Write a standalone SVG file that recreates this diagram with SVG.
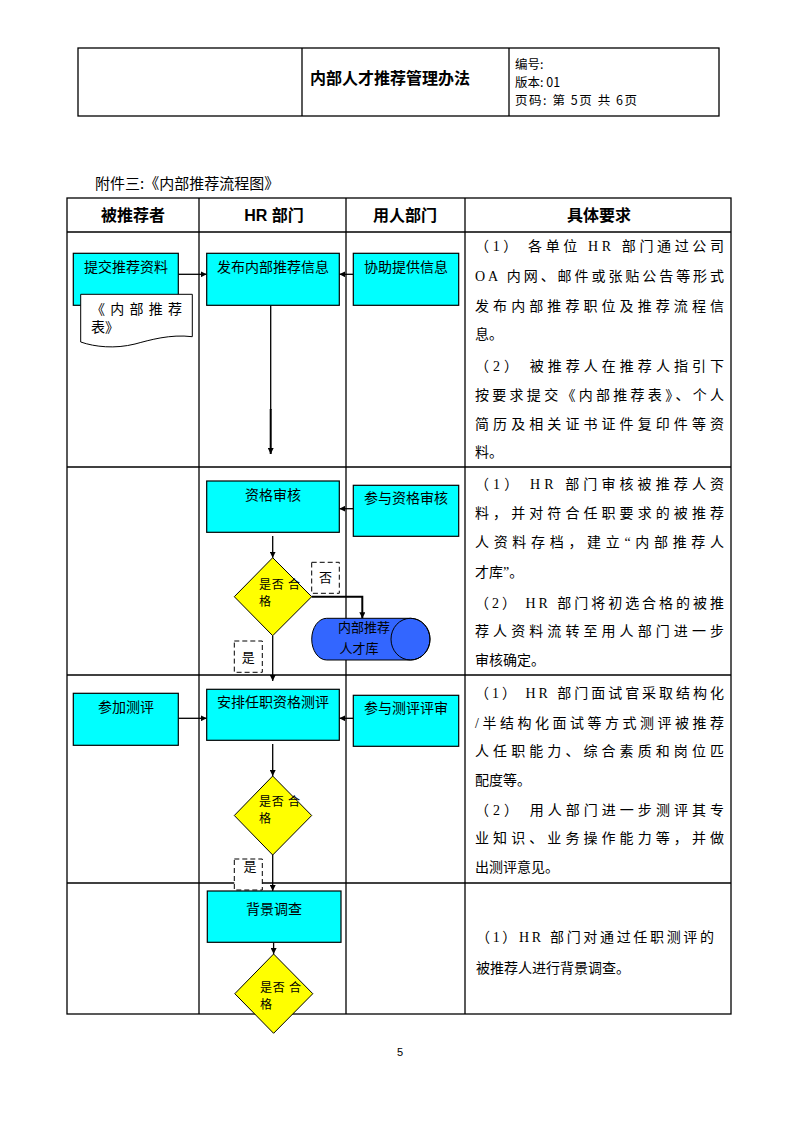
<svg xmlns="http://www.w3.org/2000/svg" width="793" height="1123" viewBox="0 0 793 1123">
<style>
.frame{fill:none;stroke:#000;stroke-width:1.3}
.box{fill:#00FFFF;stroke:#000;stroke-width:1.2}
.dia{fill:#FFFF00;stroke:#000;stroke-width:1}
.lbl{font-family:"Noto Sans CJK SC","Liberation Sans",sans-serif;font-size:14px;fill:#000}
.sm{font-family:"Noto Sans CJK SC","Liberation Sans",sans-serif;font-size:13px;fill:#000}
.dt{font-family:"Noto Sans CJK SC","Liberation Sans",sans-serif;font-size:12px;fill:#000}
.req{font-family:"Liberation Serif","Noto Sans CJK SC",serif;font-size:14px;fill:#000}
.hd{font-family:"Liberation Sans","Noto Sans CJK SC",sans-serif;font-size:16px;font-weight:bold;fill:#000;text-anchor:middle}
.conn{fill:none;stroke:#000;stroke-width:1.3}
.dash{fill:#fff;stroke:#000;stroke-width:1;stroke-dasharray:5,3}
</style>
<defs>
<marker id="ah" viewBox="0 0 10 10" refX="10" refY="5" markerWidth="6" markerHeight="6" markerUnits="userSpaceOnUse" orient="auto">
<path d="M0,0 L10,5 L0,10 Z" fill="#000"/>
</marker>
</defs>
<rect width="793" height="1123" fill="#fff"/>

<!-- page header -->
<g id="page-header">
<rect class="frame" x="78" y="48" width="641" height="68"/>
<line class="frame" x1="302" y1="48" x2="302" y2="116"/>
<line class="frame" x1="509" y1="48" x2="509" y2="116"/>
<text x="310" y="84" style="font-family:'Noto Sans CJK SC',sans-serif;font-size:16px;font-weight:bold">内部人才推荐管理办法</text>
<text x="515" y="69" style="font-family:'Noto Sans CJK SC',sans-serif;font-size:12.5px">编号:</text>
<text x="515" y="87" style="font-family:'Noto Sans CJK SC',sans-serif;font-size:12.5px">版本: 01</text>
<text x="515" y="105" style="font-family:'Noto Sans CJK SC',sans-serif;font-size:12.5px" textLength="122" lengthAdjust="spacing">页码: 第 5页 共 6页</text>
</g>

<text x="95" y="189" style="font-family:'Noto Sans CJK SC',sans-serif;font-size:15px">附件三:《内部推荐流程图》</text>

<!-- main table -->
<g id="table">
<rect class="frame" x="67" y="198" width="664" height="816"/>
<line class="frame" x1="67" y1="232" x2="731" y2="232"/>
<line class="frame" x1="67" y1="467" x2="731" y2="467"/>
<line class="frame" x1="67" y1="675" x2="731" y2="675"/>
<line class="frame" x1="67" y1="883" x2="731" y2="883"/>
<line class="frame" x1="199" y1="198" x2="199" y2="1014"/>
<line class="frame" x1="346" y1="198" x2="346" y2="1014"/>
<line class="frame" x1="465" y1="198" x2="465" y2="1014"/>
<text class="hd" x="133" y="221">被推荐者</text>
<text class="hd" x="274" y="221">HR 部门</text>
<text class="hd" x="405" y="221">用人部门</text>
<text class="hd" x="599" y="221">具体要求</text>
</g>

<!-- requirement texts -->
<g id="req-text" class="req">
<text x="475" y="251" textLength="249" lengthAdjust="spacing">（1） 各单位 HR 部门通过公司</text>
<text x="475" y="281" textLength="249" lengthAdjust="spacing">OA 内网、邮件或张贴公告等形式</text>
<text x="475" y="311" textLength="249" lengthAdjust="spacing">发布内部推荐职位及推荐流程信</text>
<text x="475" y="339">息。</text>
<text x="475" y="371" textLength="249" lengthAdjust="spacing">（2） 被推荐人在推荐人指引下</text>
<text x="475" y="400" textLength="249" lengthAdjust="spacing">按要求提交《内部推荐表》、个人</text>
<text x="475" y="429" textLength="249" lengthAdjust="spacing">简历及相关证书证件复印件等资</text>
<text x="475" y="457">料。</text>

<text x="475" y="489" textLength="249" lengthAdjust="spacing">（1） HR 部门审核被推荐人资</text>
<text x="475" y="518" textLength="249" lengthAdjust="spacing">料，并对符合任职要求的被推荐</text>
<text x="475" y="547" textLength="249" lengthAdjust="spacing">人资料存档，建立“内部推荐人</text>
<text x="475" y="577">才库”。</text>
<text x="475" y="608" textLength="249" lengthAdjust="spacing">（2） HR 部门将初选合格的被推</text>
<text x="475" y="636" textLength="249" lengthAdjust="spacing">荐人资料流转至用人部门进一步</text>
<text x="475" y="665">审核确定。</text>

<text x="475" y="698" textLength="249" lengthAdjust="spacing">（1） HR 部门面试官采取结构化</text>
<text x="475" y="728" textLength="249" lengthAdjust="spacing">/半结构化面试等方式测评被推荐</text>
<text x="475" y="756" textLength="249" lengthAdjust="spacing">人任职能力、综合素质和岗位匹</text>
<text x="475" y="785">配度等。</text>
<text x="475" y="815" textLength="249" lengthAdjust="spacing">（2） 用人部门进一步测评其专</text>
<text x="475" y="843" textLength="249" lengthAdjust="spacing">业知识、业务操作能力等，并做</text>
<text x="475" y="872">出测评意见。</text>

<text x="476" y="942" textLength="238" lengthAdjust="spacing">（1）HR 部门对通过任职测评的</text>
<text x="476" y="973">被推荐人进行背景调查。</text>
</g>

<!-- connectors -->
<g id="connectors">
<line class="conn" x1="178.3" y1="274.3" x2="206.7" y2="274.3" marker-end="url(#ah)"/>
<line class="conn" x1="353.3" y1="274.3" x2="339.3" y2="274.3" marker-end="url(#ah)"/>
<line class="conn" x1="270.7" y1="305.3" x2="270.7" y2="410"/>
<line class="conn" style="stroke-width:2" x1="270.7" y1="409" x2="270.7" y2="454" marker-end="url(#ah)"/>
<line class="conn" x1="353.3" y1="508.7" x2="339.3" y2="508.7" marker-end="url(#ah)"/>
<line class="conn" x1="272.7" y1="536" x2="272.7" y2="557.7" marker-end="url(#ah)"/>
<polyline class="conn" style="stroke-width:2" points="311.7,596.7 362.3,596.7 362.3,618.3" marker-end="url(#ah)"/>
<line class="conn" x1="272.7" y1="635.7" x2="272.7" y2="681" marker-end="url(#ah)"/>
<line class="conn" x1="178.3" y1="718.3" x2="206.7" y2="718.3" marker-end="url(#ah)"/>
<line class="conn" x1="353.3" y1="718.3" x2="339.3" y2="718.3" marker-end="url(#ah)"/>
<line class="conn" x1="272.7" y1="744" x2="272.7" y2="776" marker-end="url(#ah)"/>
<line class="conn" x1="272.7" y1="855" x2="272.7" y2="891" marker-end="url(#ah)"/>
<line class="conn" x1="273.6" y1="942.3" x2="273.6" y2="954" marker-end="url(#ah)"/>
</g>

<!-- row 1 nodes -->
<g id="n-submit">
<rect class="box" x="73.3" y="253.3" width="105" height="52"/>
<text class="lbl" x="84" y="272">提交推荐资料</text>
</g>
<g id="n-form">
<path d="M80.7,294.3 H192.3 V336.7 C170,334 150,340 135,344 C115,349 95,347 80.7,342 Z" fill="#fff" stroke="#000" stroke-width="1"/>
<text class="lbl" x="91" y="314" textLength="91" lengthAdjust="spacing">《内部推荐</text>
<text class="lbl" x="91" y="332">表》</text>
</g>
<g id="n-publish">
<rect class="box" x="206.7" y="253.3" width="132.6" height="52"/>
<text class="lbl" x="273" y="272" text-anchor="middle">发布内部推荐信息</text>
</g>
<g id="n-assist">
<rect class="box" x="353.3" y="253.3" width="105.4" height="52"/>
<text class="lbl" x="406" y="272" text-anchor="middle">协助提供信息</text>
</g>

<!-- row 2 nodes -->
<g id="n-qualify">
<rect class="box" x="206.7" y="481" width="132.6" height="51.3"/>
<text class="lbl" x="273" y="500" text-anchor="middle">资格审核</text>
</g>
<g id="n-joinqualify">
<rect class="box" x="353.3" y="485.3" width="105.4" height="51"/>
<text class="lbl" x="406" y="503" text-anchor="middle">参与资格审核</text>
</g>
<g id="n-dec1">
<polygon class="dia" points="272.7,557.7 311.7,596.7 272.7,635.7 234.3,596.7"/>
<text class="dt" x="259" y="589" textLength="41" lengthAdjust="spacing">是否 合</text>
<text class="dt" x="259" y="606">格</text>
</g>
<g id="n-no1">
<rect class="dash" x="311.7" y="562.3" width="27.6" height="31"/>
<text class="sm" x="325.5" y="582" text-anchor="middle">否</text>
</g>
<g id="n-pool">
<path d="M326.7,618.3 L410.5,618.3 A19.5,20.85 0 0 1 410.5,660 L326.7,660 A15,20.85 0 0 1 326.7,618.3 Z" fill="#3366FF" stroke="#000" stroke-width="1"/>
<ellipse cx="410.5" cy="639.15" rx="19.5" ry="20.85" fill="none" stroke="#000" stroke-width="1"/>
<text class="sm" x="364" y="632" text-anchor="middle">内部推荐</text>
<text class="sm" x="359" y="653" text-anchor="middle">人才库</text>
</g>
<g id="n-yes1">
<rect class="dash" x="234.3" y="641" width="28" height="31.3"/>
<text class="sm" x="248.3" y="662" text-anchor="middle">是</text>
</g>

<!-- row 3 nodes -->
<g id="n-attend">
<rect class="box" x="73.3" y="693.3" width="105" height="52"/>
<text class="lbl" x="126" y="712" text-anchor="middle">参加测评</text>
</g>
<g id="n-arrange">
<rect class="box" x="206.7" y="689.3" width="132.6" height="51"/>
<text class="lbl" x="273" y="707" text-anchor="middle">安排任职资格测评</text>
</g>
<g id="n-joineval">
<rect class="box" x="353.3" y="695.3" width="105.4" height="51"/>
<text class="lbl" x="406" y="713" text-anchor="middle">参与测评评审</text>
</g>
<g id="n-dec2">
<polygon class="dia" points="272.7,776 311.7,815.5 272.7,855 234.3,815.5"/>
<text class="dt" x="259" y="806" textLength="41" lengthAdjust="spacing">是否 合</text>
<text class="dt" x="259" y="823">格</text>
</g>
<g id="n-yes2">
<rect class="dash" x="234.3" y="859" width="28" height="31"/>
<text class="sm" x="250" y="871" text-anchor="middle">是</text>
</g>

<!-- row 4 nodes -->
<g id="n-background">
<rect class="box" x="207.3" y="891" width="133.7" height="51.3"/>
<text class="lbl" x="274" y="914" text-anchor="middle">背景调查</text>
</g>
<g id="n-dec3">
<polygon class="dia" points="273.6,954 312.8,993.7 273.6,1033.3 234.8,993.7"/>
<text class="dt" x="260" y="992" textLength="41" lengthAdjust="spacing">是否 合</text>
<text class="dt" x="260" y="1009">格</text>
</g>

<text x="400" y="1056" text-anchor="middle" style="font-family:'Liberation Sans',sans-serif;font-size:11px">5</text>
</svg>
